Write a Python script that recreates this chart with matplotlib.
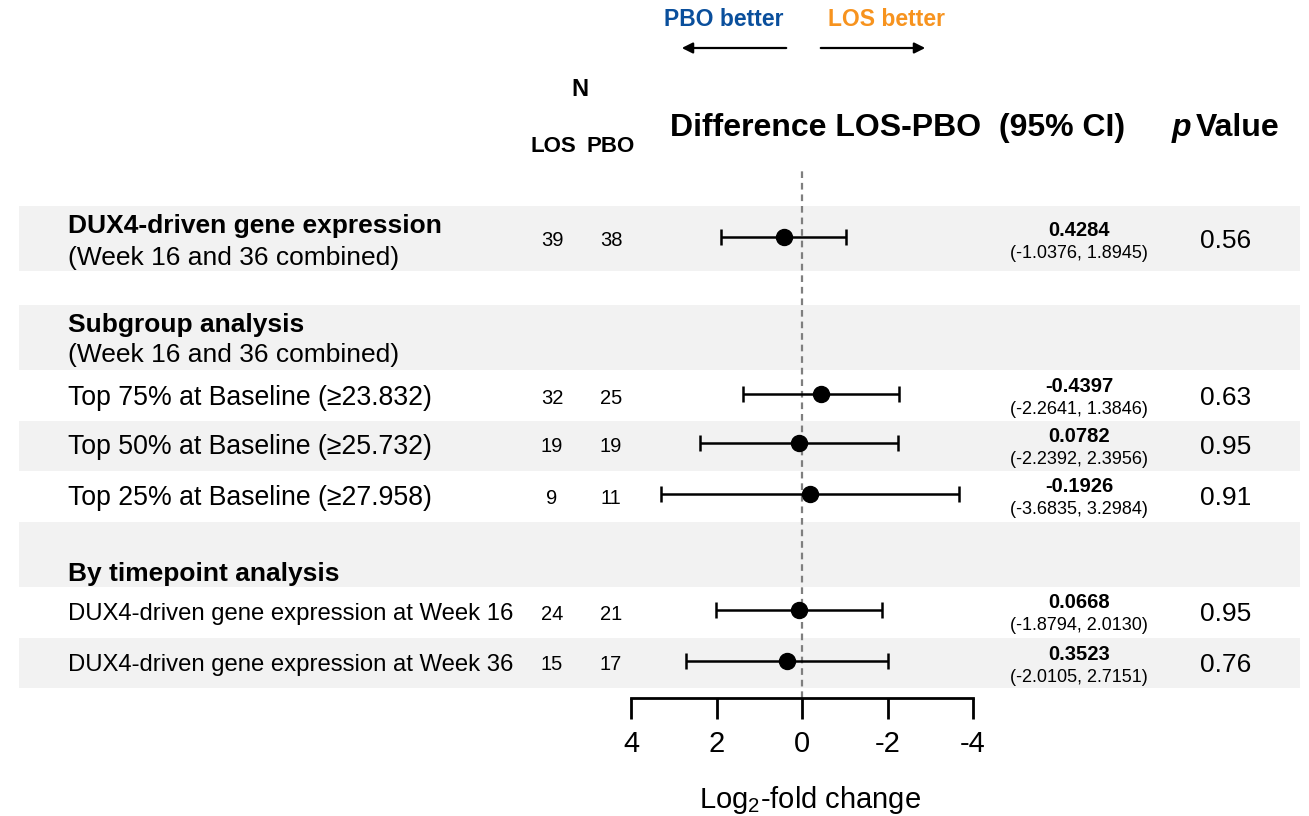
import matplotlib.pyplot as plt

plt.rcParams['font.family'] = ['Liberation Sans', 'DejaVu Sans']
plt.rcParams['mathtext.fontset'] = 'custom'
plt.rcParams['mathtext.rm'] = 'Liberation Sans'

# data
row_labels = ["Top 75% at Baseline (≥23.832)",
              "Top 50% at Baseline (≥25.732)",
              "Top 25% at Baseline (≥27.958)",
              "DUX4-driven gene expression at Week 16",
              "DUX4-driven gene expression at Week 36"]
n_los = [39, 32, 19, 9, 24, 15]
n_pbo = [38, 25, 19, 11, 21, 17]
estimate = [0.4284, -0.4397, 0.0782, -0.1926, 0.0668, 0.3523]
ci_low = [-1.0376, -2.2641, -2.2392, -3.6835, -1.8794, -2.0105]
ci_high = [1.8945, 1.3846, 2.3956, 3.2984, 2.0130, 2.7151]
p_values = ["0.56", "0.63", "0.95", "0.91", "0.95", "0.76"]
x_ticks = [4, 2, 0, -2, -4]

# layout (pixel rows, from top)
W, H = 1309, 816
row_y = [241, 398, 447, 498, 614, 665]
bands = [(206, 271), (305, 370), (421, 471), (522, 587), (638, 688)]
band_col = "#f2f2f2"

fig = plt.figure(figsize=(W / 100, H / 100), dpi=100)
bg = fig.add_axes([0, 0, 1, 1])
bg.set_xlim(0, W)
bg.set_ylim(H, 0)
bg.axis("off")

for y0, y1 in bands:
    bg.axhspan(y0, y1, xmin=19 / W, xmax=1300 / W, color=band_col, lw=0, zorder=0)

# forest axis
ax_top, ax_bot = 170, 698
ax = fig.add_axes([631 / W, (H - ax_bot) / H, (973 - 631) / W, (ax_bot - ax_top) / H])
ax.patch.set_visible(False)
ax.set_xlim(4, -4)
ax.set_ylim(ax_bot, ax_top)
for s in ["top", "left", "right"]:
    ax.spines[s].set_visible(False)
ax.spines["bottom"].set_linewidth(2)
ax.set_yticks([])
ax.set_xticks(x_ticks)
ax.set_xticklabels([str(t) for t in x_ticks])
ax.tick_params(axis="x", direction="out", length=15, width=2, labelsize=21, pad=8)
ax.set_xlabel(r"Log$_2$-fold change", fontsize=21)
ax.xaxis.set_label_coords(0.523, -0.162)
ax.axvline(0, color="#7f7f7f", lw=1.6, dashes=(3, 2.2), zorder=1)

for e, lo, hi, y in zip(estimate, ci_low, ci_high, row_y):
    ax.errorbar([e], [y - 4], xerr=[[abs(hi - e)], [abs(e - lo)]], fmt="o", color="black",
                ms=11.5, lw=1.8, capsize=6, capthick=1.8, zorder=3)

# header
bg.text(724, 20, "PBO better", color="#0a4f9c", fontsize=16.5, fontweight="bold", ha="center", va="center")
bg.text(887, 20, "LOS better", color="#f7931e", fontsize=16.5, fontweight="bold", ha="center", va="center")
bg.annotate("", xy=(679, 48), xytext=(789, 48),
            arrowprops=dict(arrowstyle="-|>", color="black", lw=1.6, mutation_scale=16))
bg.annotate("", xy=(928, 48), xytext=(818, 48),
            arrowprops=dict(arrowstyle="-|>", color="black", lw=1.6, mutation_scale=16))
bg.text(580, 90, "N", fontsize=17, fontweight="bold", ha="center", va="center")
bg.text(553, 147, "LOS", fontsize=16, fontweight="bold", ha="center", va="center")
bg.text(611, 147, "PBO", fontsize=16, fontweight="bold", ha="center", va="center")
bg.text(670, 128, "Difference LOS-PBO  (95% CI)", fontsize=23, fontweight="bold", ha="left", va="center")
bg.text(1172, 128, "p", fontsize=23, fontweight="bold", style="italic", ha="left", va="center")
bg.text(1196, 128, "Value", fontsize=23, fontweight="bold", ha="left", va="center")

# left labels
bg.text(68, 226, "DUX4-driven gene expression", fontsize=19, fontweight="bold", va="center")
bg.text(68, 258, "(Week 16 and 36 combined)", fontsize=19, va="center")
bg.text(68, 325, "Subgroup analysis", fontsize=19, fontweight="bold", va="center")
bg.text(68, 355, "(Week 16 and 36 combined)", fontsize=19, va="center")
bg.text(68, 574, "By timepoint analysis", fontsize=19, fontweight="bold", va="center")
for i, lab in enumerate(row_labels):
    fs = 19.2 if i < 3 else 17.2
    bg.text(68, row_y[i + 1], lab, fontsize=fs, va="center")

# numeric columns
for i, y in enumerate(row_y):
    bg.text(552, y, str(n_los[i]), fontsize=14.5, ha="center", va="center")
    bg.text(611, y, str(n_pbo[i]), fontsize=14.5, ha="center", va="center")
    bg.text(1079, y - 11, f"{estimate[i]:.4f}", fontsize=14.5, fontweight="bold", ha="center", va="center")
    bg.text(1079, y + 12, f"({ci_low[i]:.4f}, {ci_high[i]:.4f})", fontsize=13, ha="center", va="center")
    bg.text(1226, y, p_values[i], fontsize=19, ha="center", va="center")

fig.savefig("out.png", dpi=100)
